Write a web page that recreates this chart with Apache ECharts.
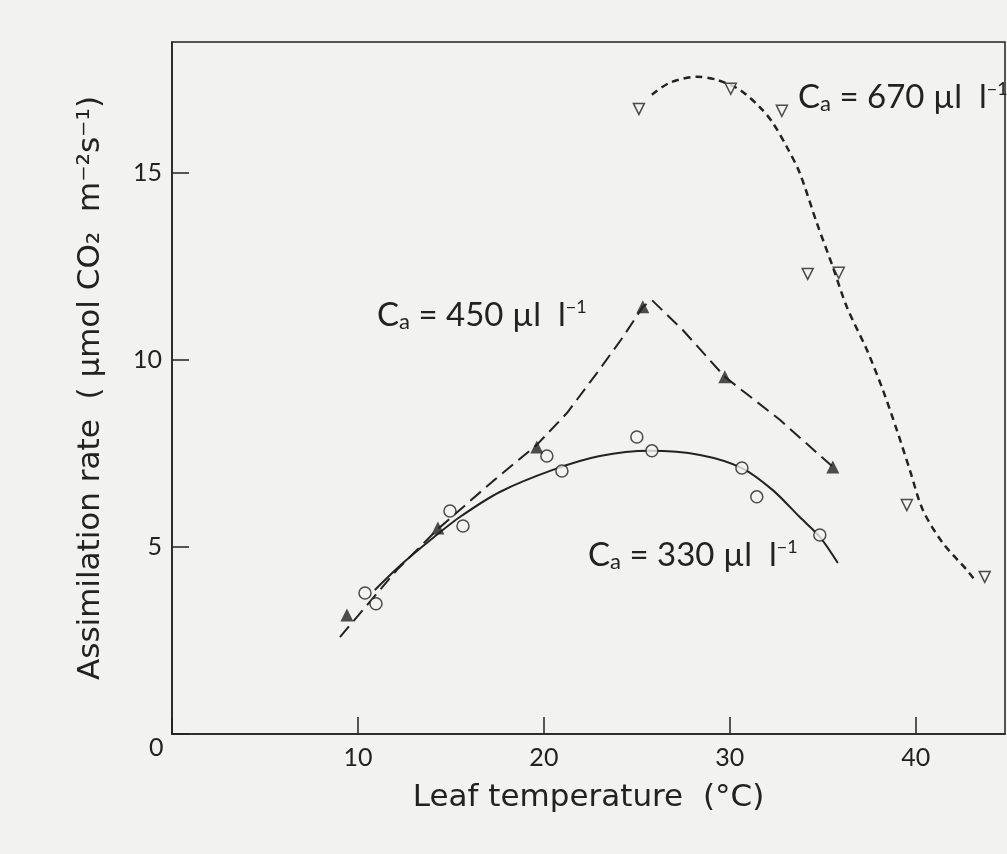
<!DOCTYPE html>
<html><head><meta charset="utf-8">
<script src="https://cdn.jsdelivr.net/npm/echarts@6/dist/echarts.min.js"></script>
<style>html,body{margin:0;padding:0;background:#f2f2f0;}#c{width:1007px;height:854px;}</style>
</head><body><div id="c"></div>
<script>
// Measured points (leaf temperature °C, assimilation rate µmol m-2 s-1)
const t330 = [10.38, 10.97, 14.95, 15.65, 20.16, 20.97, 25.0, 25.81, 30.65, 31.45, 34.84];
const a330 = [3.77, 3.48, 5.96, 5.56, 7.43, 7.03, 7.94, 7.57, 7.11, 6.34, 5.32];
const t450 = [9.41, 14.30, 19.62, 25.32, 29.73, 35.54];
const a450 = [3.18, 5.51, 7.67, 11.42, 9.55, 7.14];
const t670 = [25.11, 30.05, 32.80, 34.19, 35.86, 39.52, 43.71];
const a670 = [16.71, 17.25, 16.66, 12.30, 12.33, 6.12, 4.20];
// Hand-drawn fitted curves
const c330T = [10.91, 12.42, 14.03, 15.48, 17.63, 20.48, 23.01, 25.70, 28.39, 30.65, 32.31, 33.76, 34.84, 35.81];
const c330A = [3.85, 4.57, 5.24, 5.80, 6.47, 7.06, 7.43, 7.57, 7.46, 7.11, 6.52, 5.80, 5.27, 4.57];
const c450T = [9.03, 12.10, 14.30, 17.26, 19.62, 21.24, 22.85, 24.25, 25.32, 25.81, 27.47, 29.73, 32.69, 35.54];
const c450A = [2.59, 4.39, 5.48, 6.76, 7.73, 8.58, 9.65, 10.61, 11.42, 11.60, 10.80, 9.55, 8.40, 7.14];
const c670T = [25.81, 26.77, 28.23, 29.30, 30.54, 31.61, 32.31, 33.06, 33.76, 34.68, 35.54, 36.29, 37.37, 38.23, 38.98, 39.68, 40.38, 41.45, 42.74, 43.17];
const c670A = [17.09, 17.41, 17.57, 17.49, 17.22, 16.76, 16.34, 15.70, 15.00, 13.66, 12.49, 11.42, 10.27, 9.20, 8.13, 7.06, 5.99, 5.11, 4.39, 4.12];
const xTicks = [0, 10, 20, 30, 40];
const yTicks = [0, 5, 10, 15];

const zip = (a, b) => a.map((v, i) => [v, b[i]]);
const FONT = 'Lato';
const TFONT = 'DejaVu Sans';
const INK = '#222';
const BG = '#f2f2f0';

const chart = echarts.init(document.getElementById('c'), null, {renderer: 'canvas'});
const capLabel = (val) => ({
  rich: {
    m: {fontSize: 33, fontFamily: FONT, color: INK},
    s: {fontSize: 22, fontFamily: FONT, color: INK, padding: [14, 0, 0, 0]},
    p: {fontSize: 18, fontFamily: FONT, color: INK, padding: [0, 0, 16, 0]}
  },
  text: '{m|C}{s|a}{m| = ' + val + ' µl  l}{p|−1}'
});
chart.setOption({
  backgroundColor: BG,
  animation: false,
  grid: {left: 172, right: 2, top: 42, bottom: 120, show: true, borderColor: INK, borderWidth: 1.5, backgroundColor: 'transparent'},
  xAxis: {
    type: 'value', min: 0, max: 44.8, interval: 10,
    name: 'Leaf temperature  (°C)', nameLocation: 'middle', nameGap: 48,
    nameTextStyle: {fontSize: 31, fontFamily: TFONT, color: INK, verticalAlign: 'top'},
    axisLine: {lineStyle: {color: INK, width: 1.5}},
    axisTick: {inside: true, length: 17, lineStyle: {color: INK, width: 1.5}},
    axisLabel: {fontSize: 25, fontFamily: FONT, color: INK, margin: 11, showMaxLabel: false,
      formatter: v => (xTicks.indexOf(v) > 0 ? String(v) : '')},
    splitLine: {show: false}
  },
  yAxis: {
    type: 'value', min: 0, max: 18.5, interval: 5,
    name: 'Assimilation rate  ( µmol CO₂  m⁻²s⁻¹)', nameLocation: 'middle', nameGap: 66,
    nameTextStyle: {fontSize: 31, fontFamily: TFONT, color: INK},
    axisLine: {lineStyle: {color: INK, width: 1.5}},
    axisTick: {inside: true, length: 17, lineStyle: {color: INK, width: 1.5}},
    axisLabel: {fontSize: 25, fontFamily: FONT, color: INK, margin: 10, showMaxLabel: false,
      formatter: v => (yTicks.indexOf(v) > 0 ? String(v) : '')},
    splitLine: {show: false}
  },
  graphic: [
    {type: 'text', left: 149, top: 735, style: {text: '0', fontSize: 25, fontFamily: FONT, fill: INK}},
    {type: 'text', left: 798, top: 80, style: Object.assign({fill: INK}, capLabel(670))},
    {type: 'text', left: 377, top: 298, style: Object.assign({fill: INK}, capLabel(450))},
    {type: 'text', left: 588, top: 538, style: Object.assign({fill: INK}, capLabel(330))}
  ],
  series: [
    {type: 'line', data: zip(c330T, c330A), smooth: 0.3, showSymbol: false, lineStyle: {color: INK, width: 2}, z: 2},
    {type: 'line', data: zip(c450T, c450A), smooth: false, showSymbol: false, lineStyle: {color: INK, width: 2, type: [14, 7]}, z: 2},
    {type: 'line', data: zip(c670T, c670A), smooth: 0.3, showSymbol: false, lineStyle: {color: INK, width: 2.5, type: [7, 5]}, z: 2},
    {type: 'scatter', data: zip(t330, a330), symbol: 'circle', symbolSize: 12, itemStyle: {color: BG, borderColor: INK, borderWidth: 1.5}, z: 3},
    {type: 'scatter', data: zip(t450, a450), symbol: 'triangle', symbolSize: 13, itemStyle: {color: INK}, z: 3},
    {type: 'scatter', data: zip(t670, a670), symbol: 'triangle', symbolRotate: 180, symbolSize: 11, itemStyle: {color: BG, borderColor: INK, borderWidth: 1.5}, z: 3}
  ]
});
</script></body></html>
